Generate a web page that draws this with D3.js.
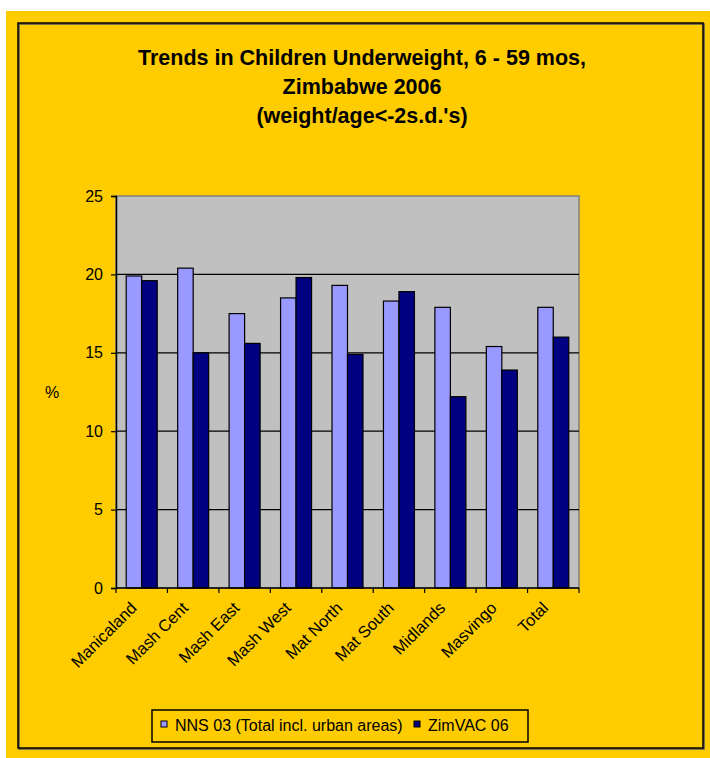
<!DOCTYPE html>
<html>
<head>
<meta charset="utf-8">
<script src="https://cdn.jsdelivr.net/npm/d3@7"></script>
<style>
  body { margin: 0; background: #fff; }
  text { font-family: "Liberation Sans", Arial, sans-serif; }
</style>
</head>
<body>
<script>
const width = 710;
const height = 758;

// data
const regions = ["Manicaland", "Mash Cent", "Mash East", "Mash West", "Mat North", "Mat South", "Midlands", "Masvingo", "Total"];
const nns03 = [19.9, 20.4, 17.5, 18.5, 19.3, 18.3, 17.9, 15.4, 17.9];
const zimvac06 = [19.6, 15.0, 15.6, 19.8, 14.9, 18.9, 12.2, 13.9, 16.0];
const seriesNames = ["NNS 03 (Total incl. urban areas)", "ZimVAC 06"];
const yTicks = [0, 5, 10, 15, 20, 25];
const titleLines = ["Trends in Children Underweight, 6 - 59 mos,", "Zimbabwe 2006", "(weight/age<-2s.d.'s)"];

const colors = ["#9999FF", "#000080"];

const svg = d3.select("body").append("svg")
  .attr("width", width)
  .attr("height", height);

// yellow chart area + black frame
svg.append("rect")
  .attr("x", 6).attr("y", 11)
  .attr("width", width - 6).attr("height", height - 11)
  .attr("fill", "#FFCC00");

svg.append("rect")
  .attr("x", 19).attr("y", 24)
  .attr("width", 685).attr("height", 725)
  .attr("fill", "none")
  .attr("stroke", "#555")
  .attr("stroke-width", 1.5);
svg.append("rect")
  .attr("x", 18).attr("y", 23)
  .attr("width", 685).attr("height", 725)
  .attr("fill", "none")
  .attr("stroke", "#000")
  .attr("stroke-width", 1.5);

// title
svg.append("g")
  .selectAll("text")
  .data(titleLines)
  .join("text")
  .attr("x", 362)
  .attr("y", (d, i) => 65 + i * 29)
  .attr("text-anchor", "middle")
  .attr("font-size", 21.5)
  .attr("font-weight", "bold")
  .text(d => d);

const margin = { left: 116, right: 579, top: 196, bottom: 588 };

const x = d3.scaleBand()
  .domain(regions)
  .range([margin.left, margin.right]);

const y = d3.scaleLinear()
  .domain([0, 25])
  .range([margin.bottom, margin.top]);

const barW = 15.5;

// plot area
svg.append("rect")
  .attr("x", margin.left).attr("y", margin.top)
  .attr("width", margin.right - margin.left)
  .attr("height", margin.bottom - margin.top)
  .attr("fill", "#C0C0C0")
  .attr("stroke", "#808080")
  .attr("stroke-width", 1.5);

// gridlines
svg.append("g")
  .selectAll("line")
  .data(yTicks.filter(d => d > 0 && d < 25))
  .join("line")
  .attr("x1", margin.left).attr("x2", margin.right)
  .attr("y1", d => y(d)).attr("y2", d => y(d))
  .attr("stroke", "#000")
  .attr("stroke-width", 1.2);

// bars
const rows = regions.map((r, i) => ({ region: r, vals: [nns03[i], zimvac06[i]] }));

svg.append("g")
  .selectAll("g")
  .data(rows)
  .join("g")
  .attr("transform", d => `translate(${x(d.region) + x.bandwidth() / 2 - barW},0)`)
  .selectAll("rect")
  .data(d => d.vals)
  .join("rect")
  .attr("x", (d, i) => i * barW)
  .attr("y", d => y(d))
  .attr("width", barW)
  .attr("height", d => y(0) - y(d))
  .attr("fill", (d, i) => colors[i])
  .attr("stroke", "#000")
  .attr("stroke-width", 1.2);

// y axis
const yAxis = svg.append("g")
  .attr("transform", `translate(${margin.left},0)`)
  .call(d3.axisLeft(y).tickValues(yTicks).tickSize(5).tickPadding(8));
yAxis.select(".domain").attr("stroke", "#000").attr("stroke-width", 1.5);
yAxis.selectAll(".tick line").attr("stroke", "#000").attr("stroke-width", 1.2);
yAxis.selectAll(".tick text")
  .attr("font-size", 16)
  .attr("font-family", "Liberation Sans, Arial, sans-serif")
  .attr("fill", "#000");

// x axis
const xTickPos = regions.map(r => x(r)).concat([margin.right]);
const xAxis = svg.append("g")
  .attr("transform", `translate(0,${margin.bottom})`);
xAxis.append("line")
  .attr("x1", margin.left).attr("x2", margin.right)
  .attr("stroke", "#000").attr("stroke-width", 1.5);
xAxis.selectAll(".xt")
  .data(xTickPos)
  .join("line")
  .attr("class", "xt")
  .attr("x1", d => d).attr("x2", d => d)
  .attr("y1", 0).attr("y2", 5)
  .attr("stroke", "#000").attr("stroke-width", 1.2);
xAxis.selectAll("text")
  .data(regions)
  .join("text")
  .attr("transform", d => `translate(${x(d) + x.bandwidth() / 2 - 4},21) rotate(-45)`)
  .attr("text-anchor", "end")
  .attr("font-size", 16.5)
  .text(d => d);

// y label
svg.append("text")
  .attr("x", 52).attr("y", 398)
  .attr("text-anchor", "middle")
  .attr("font-size", 16)
  .text("%");

// legend
const legend = svg.append("g").attr("transform", "translate(152,710)");
legend.append("rect")
  .attr("width", 376).attr("height", 32)
  .attr("fill", "none")
  .attr("stroke", "#000")
  .attr("stroke-width", 1.5);
const legendX = [9, 262];
const items = legend.selectAll("g")
  .data(seriesNames)
  .join("g")
  .attr("transform", (d, i) => `translate(${legendX[i]},0)`);
items.append("rect")
  .attr("x", 0).attr("y", 11)
  .attr("width", 6).attr("height", 6)
  .attr("fill", (d, i) => colors[i])
  .attr("stroke", "#000")
  .attr("stroke-width", 1);
items.append("text")
  .attr("x", 14).attr("y", 21)
  .attr("font-size", 16)
  .text(d => d);
</script>
</body>
</html>
